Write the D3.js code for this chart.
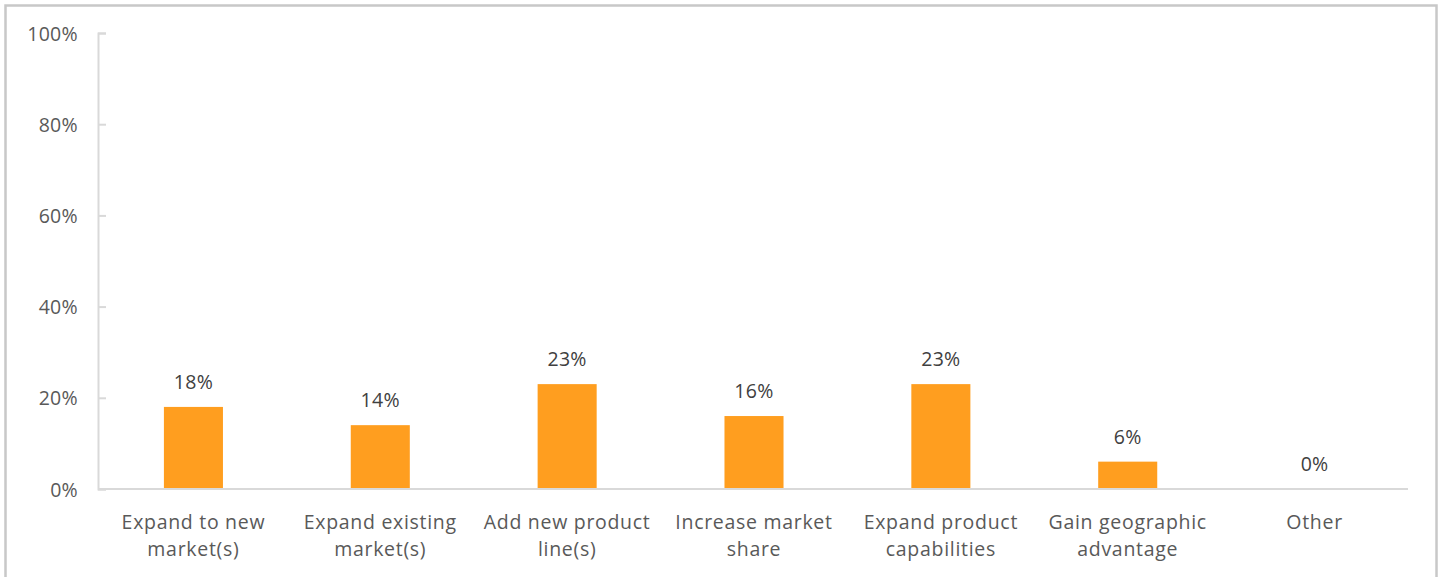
<!DOCTYPE html>
<html>
<head>
<meta charset="utf-8">
<script src="https://cdn.jsdelivr.net/npm/d3@7"></script>
<style>
  html, body { margin: 0; padding: 0; background: #fff; }
  svg { display: block; }
  text { font-family: "Open Sans", "Noto Sans", sans-serif; }
</style>
</head>
<body>
<svg id="chart" width="1444" height="577"></svg>
<script>
// Reasons for acquisitions: share of respondents
const categories = [
  ["Expand to new", "market(s)"],
  ["Expand existing", "market(s)"],
  ["Add new product", "line(s)"],
  ["Increase market", "share"],
  ["Expand product", "capabilities"],
  ["Gain geographic", "advantage"],
  ["Other"]
];
const values = [0.18, 0.14, 0.23, 0.16, 0.23, 0.06, 0.0];
const yTicks = [0, 0.2, 0.4, 0.6, 0.8, 1.0];

const svg = d3.select("#chart");
const W = 1444, H = 577;
const margin = { left: 98, right: 36, top: 33, bottom: 88 };
const fontSize = "19.5px";

// outer frame
svg.append("rect")
  .attr("x", 5.5).attr("y", 5.5)
  .attr("width", 1431).attr("height", 600)
  .attr("fill", "none")
  .attr("stroke", "#c8c8c8")
  .attr("stroke-width", 2.5);

const x = d3.scaleBand()
  .domain(d3.range(categories.length))
  .range([margin.left + 2, W - margin.right])
  .paddingInner(0.684)
  .paddingOuter(0.342);

const y = d3.scaleLinear()
  .domain([0, 1])
  .range([H - margin.bottom, margin.top]);

// y axis
const yAxis = svg.append("g")
  .attr("transform", `translate(${margin.left},0)`)
  .call(d3.axisRight(y).tickValues(yTicks).tickFormat(d3.format(".0%")).tickSize(8).tickPadding(0));
yAxis.select(".domain").attr("stroke", "#d9d9d9").attr("stroke-width", 2);
yAxis.selectAll(".tick line").attr("stroke", "#d9d9d9").attr("stroke-width", 2);
yAxis.selectAll(".tick text")
  .attr("x", -20)
  .attr("text-anchor", "end")
  .attr("dy", "0.36em")
  .attr("fill", "#595959")
  .style("font-size", fontSize)
  .style("letter-spacing", "0.3px");

// bars
svg.append("g").selectAll("rect")
  .data(values)
  .join("rect")
  .attr("x", (d, i) => x(i))
  .attr("y", d => y(d))
  .attr("width", x.bandwidth())
  .attr("height", d => y(0) - y(d))
  .attr("fill", "#FF9E1F");

// x axis baseline
svg.append("line")
  .attr("x1", margin.left).attr("x2", W - margin.right)
  .attr("y1", y(0)).attr("y2", y(0))
  .attr("stroke", "#d9d9d9").attr("stroke-width", 2);

// value labels
svg.append("g").selectAll("text")
  .data(values)
  .join("text")
  .attr("x", (d, i) => x(i) + x.bandwidth() / 2)
  .attr("y", d => y(d) - 18)
  .attr("text-anchor", "middle")
  .attr("fill", "#404040")
  .style("font-size", fontSize)
  .style("letter-spacing", "0.3px")
  .text(d => d3.format(".0%")(d));

// category labels
const cat = svg.append("g").selectAll("text")
  .data(categories)
  .join("text")
  .attr("x", (d, i) => x(i) + x.bandwidth() / 2)
  .attr("y", y(0) + 40)
  .attr("text-anchor", "middle")
  .attr("fill", "#595959")
  .style("font-size", fontSize)
  .style("letter-spacing", "0.7px");
cat.selectAll("tspan")
  .data(d => d)
  .join("tspan")
  .attr("x", function () { return d3.select(this.parentNode).attr("x"); })
  .attr("dy", (d, i) => i === 0 ? 0 : 27)
  .text(d => d);
</script>
</body>
</html>
